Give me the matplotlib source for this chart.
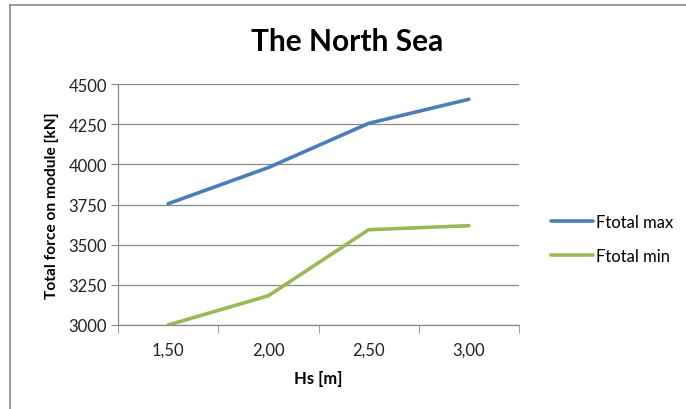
import matplotlib
matplotlib.use("Agg")
import matplotlib.pyplot as plt
from matplotlib.lines import Line2D

plt.rcParams['font.family'] = ['Lato', 'DejaVu Sans']

hs_labels = ['1,50', '2,00', '2,50', '3,00']
f_max = [3755, 3980, 4255, 4405]
f_min = [3000, 3182, 3593, 3618]

W, H = 686, 410
fig = plt.figure(figsize=(W / 100, H / 100), dpi=100)

# plot area placed in pixel terms
left, right, top, bottom = 118, 519, 85, 326
ax = fig.add_axes([left / W, (H - bottom) / H, (right - left) / W, (bottom - top) / H])

x = list(range(len(hs_labels)))
ax.plot(x, f_max, color='#4A7EBB', linewidth=2.6, solid_capstyle='round', label='Ftotal max')
ax.plot(x, f_min, color='#98B954', linewidth=2.6, solid_capstyle='round', label='Ftotal min')

ax.set_xlim(-0.5, len(hs_labels) - 0.5)
ax.set_ylim(3000, 4500)
ax.set_yticks(range(3000, 4501, 250))
ax.yaxis.grid(True, color='#888888', linewidth=0.9)
ax.set_axisbelow(True)

ax.set_xticks(x)
ax.set_xticklabels(hs_labels)
ax.set_xticks([i - 0.5 for i in range(len(hs_labels) + 1)], minor=True)
ax.tick_params(axis='x', which='major', length=0, pad=12, labelsize=12, colors='#222222')
ax.tick_params(axis='x', which='minor', length=6, color='#888888', direction='out')
ax.tick_params(axis='y', length=5, pad=3, labelsize=12, colors='#222222')
ax.tick_params(axis='y', color='#888888')

for s in ['top', 'right']:
    ax.spines[s].set_visible(False)
for s in ['left', 'bottom']:
    ax.spines[s].set_color('#888888')
    ax.spines[s].set_linewidth(0.9)

ax.set_xlabel('Hs [m]', fontsize=12, fontweight='bold', labelpad=9)
ax.set_ylabel('Total force on module [kN]', fontsize=11.2, fontweight='bold', labelpad=7)
fig.text(347 / W, 1 - 42 / H, 'The North Sea', fontsize=21.5, fontweight='bold',
         ha='center', va='center')

fig.legend(loc='center left', bbox_to_anchor=(536 / W, 1 - 240 / H), frameon=False,
           fontsize=12, handlelength=2.5, handletextpad=0.2, labelspacing=1.05)

# chart border
fig.add_artist(Line2D([10 / W, 10 / W], [0, 1 - 5.5 / H], transform=fig.transFigure,
                      color='#888888', linewidth=1.2))
fig.add_artist(Line2D([10 / W, 1], [1 - 5.5 / H, 1 - 5.5 / H], transform=fig.transFigure,
                      color='#888888', linewidth=1.2))

fig.savefig('out.png', dpi=100)
